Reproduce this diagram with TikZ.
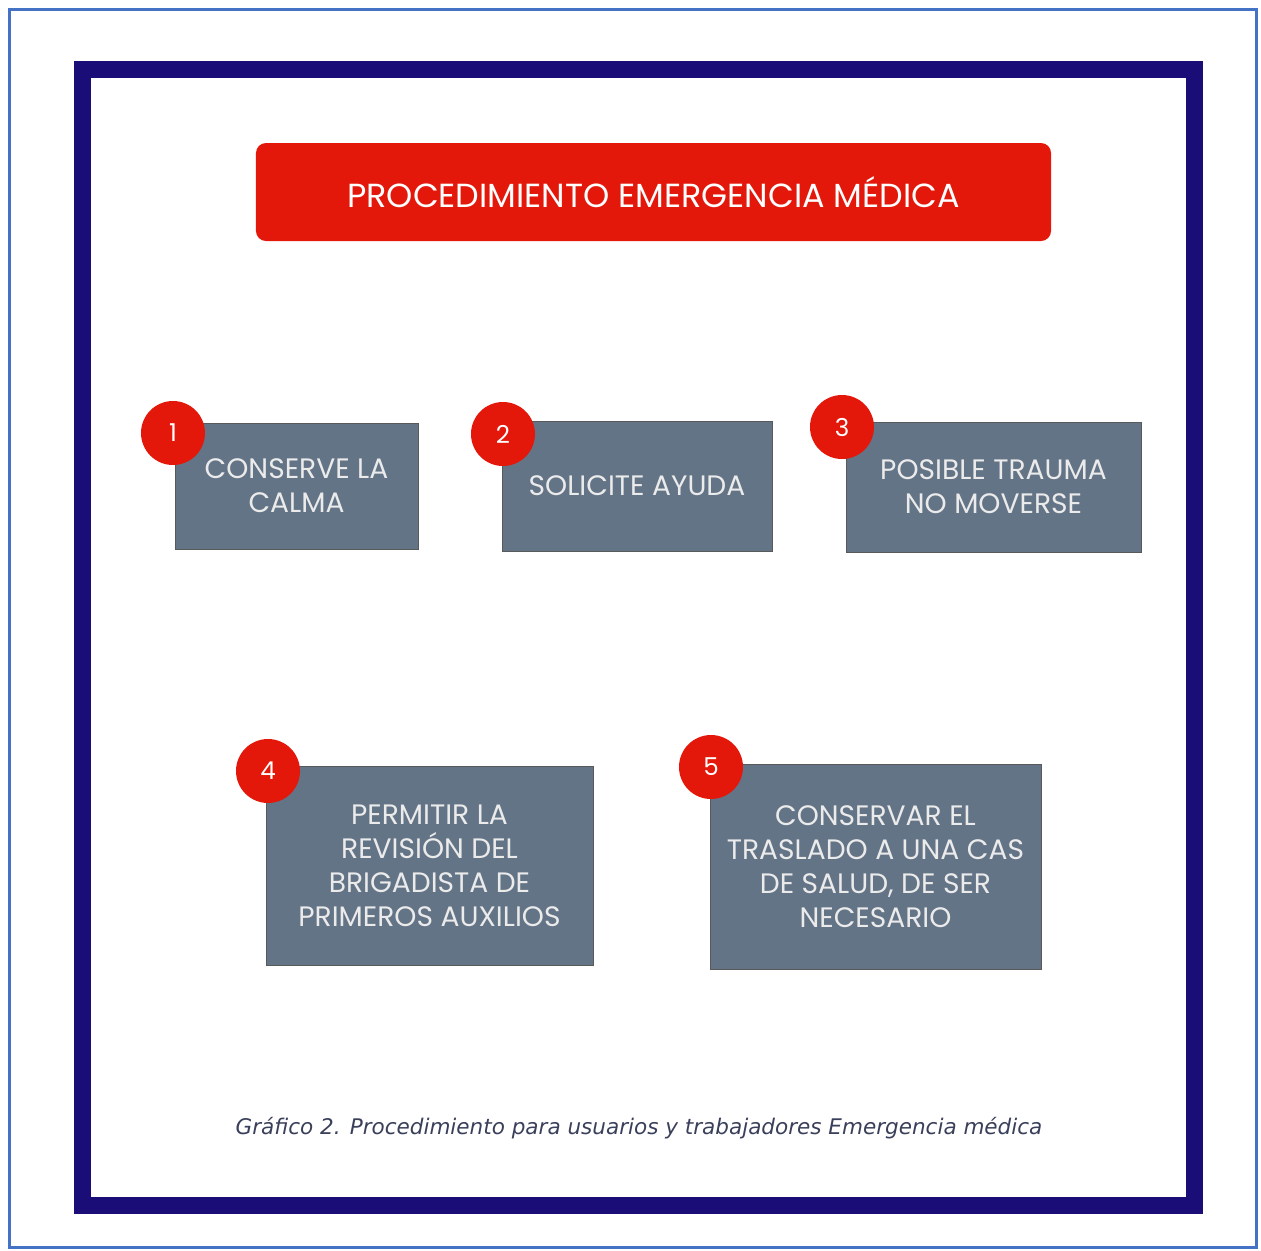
\documentclass[tikz,border=0pt]{standalone}
\usepackage{fontspec}
\setmainfont{Poppins}
\newfontfamily\piefont{DejaVu Sans}
\definecolor{marco}{HTML}{1B0D78}
\definecolor{rojo}{HTML}{E3170A}
\definecolor{pizarra}{HTML}{647487}
\definecolor{borde}{HTML}{4472C4}
\definecolor{textopie}{HTML}{3A3F5A}
\tikzset{
	paso/.style={rectangle, draw=black!65, line width=0.5pt, fill=pizarra, text=white!92!black, align=center, inner sep=0pt, font=\fontsize{16}{19.3}\selectfont},
	num/.style={circle, fill=rojo, text=white, minimum size=12.8mm, inner sep=0pt, font=\fontsize{14}{16}\selectfont}
}

\begin{document}
\begin{tikzpicture}[x=0.2mm, y=-0.2mm]
\useasboundingbox (0,0) rectangle (1261,1251);
\draw[borde, line width=0.6mm] (9.5,9.5) rectangle (1256.5,1247.5);
\draw[marco, line width=3.4mm] (82.5,69.5) rectangle (1194.5,1205.5);

\node[fill=rojo, rounded corners=2mm, minimum width=159mm, minimum height=19.6mm, text=white, font=\fontsize{19}{22}\selectfont] (titulo) at (653.5,192) {PROCEDIMIENTO EMERGENCIA MÉDICA};

\node[paso, minimum width=48.6mm, minimum height=25.2mm] (p1) at (296.5,486) {CONSERVE LA\\CALMA};
\node[paso, minimum width=54mm, minimum height=26mm] (p2) at (637,486) {SOLICITE AYUDA};
\node[paso, minimum width=59mm, minimum height=26mm] (p3) at (993.5,487) {POSIBLE TRAUMA\\NO MOVERSE};
\node[paso, minimum width=65.4mm, minimum height=39.8mm] (p4) at (429.5,865.5) {PERMITIR LA\\REVISIÓN DEL\\BRIGADISTA DE\\PRIMEROS AUXILIOS};
\node[paso, minimum width=66.2mm, minimum height=41mm] (p5) at (875.5,866.5) {CONSERVAR EL\\TRASLADO A UNA CAS\\DE SALUD, DE SER\\NECESARIO};

\node[num] (n1) at (173,433) {1};
\node[num] (n2) at (503,434) {2};
\node[num] (n3) at (842,427) {3};
\node[num] (n4) at (268,771) {4};
\node[num] (n5) at (711,767) {5};

\node[text=textopie, font=\piefont\itshape\fontsize{12.25}{14}\selectfont] (pie) at (639,1128) {Gráfico 2. Procedimiento para usuarios y trabajadores Emergencia médica};
\end{tikzpicture}
\end{document}
